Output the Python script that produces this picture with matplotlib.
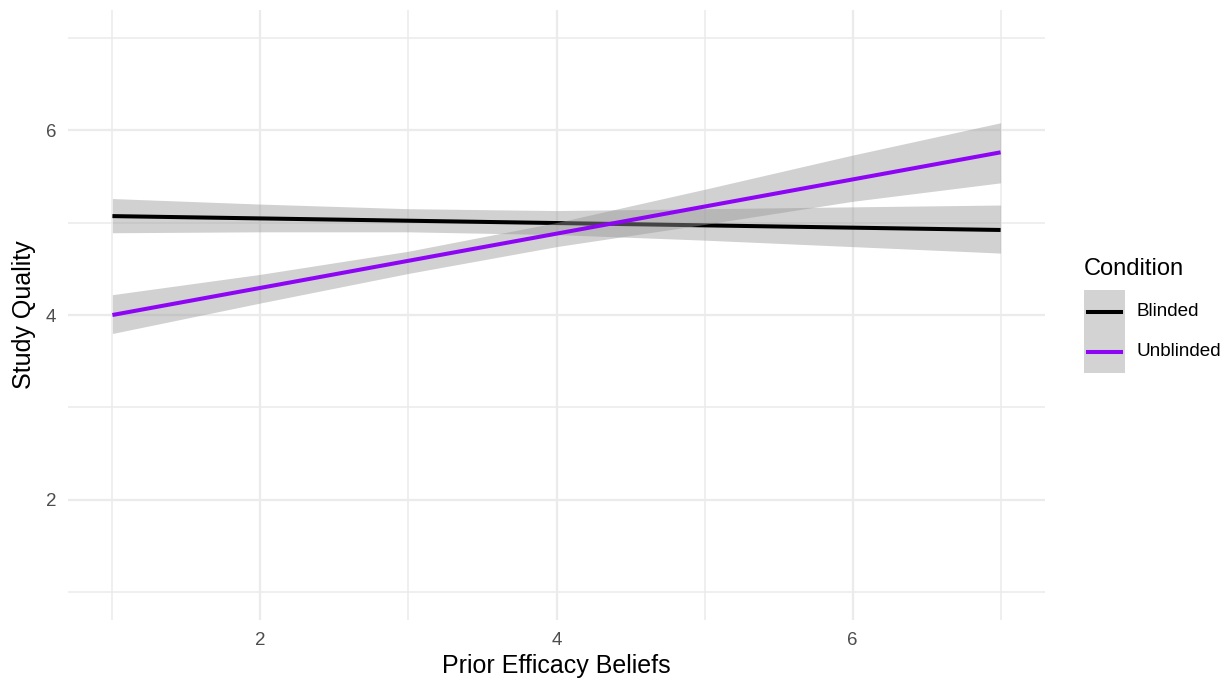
import matplotlib.pyplot as plt
from matplotlib.patches import Rectangle
from matplotlib.lines import Line2D

plt.rcParams['font.family'] = ['Liberation Sans', 'DejaVu Sans']

# fitted lines (endpoints of the regression over the observed x range)
x_fit = [1, 7]
blinded_fit = [5.07, 4.92]
unblinded_fit = [4.00, 5.76]

# 95% confidence bands read at each integer x
x_band = [1, 2, 3, 4, 5, 6, 7]
blinded_lo = [4.89, 4.90, 4.90, 4.87, 4.81, 4.74, 4.67]
blinded_hi = [5.26, 5.20, 5.15, 5.13, 5.15, 5.17, 5.19]
unblinded_lo = [3.80, 4.13, 4.45, 4.74, 4.98, 5.23, 5.43]
unblinded_hi = [4.22, 4.44, 4.69, 5.00, 5.36, 5.73, 6.08]

conditions = ["Blinded", "Unblinded"]
colors = ["#000000", "#8E05F5"]
band_col = "#999999"

fig = plt.figure(figsize=(12.28, 6.83), dpi=100)
ax = fig.add_axes([68 / 1228, 1 - 620 / 683, (1045 - 68) / 1228, 610 / 683])

ax.fill_between(x_band, blinded_lo, blinded_hi, color=band_col, alpha=0.45, lw=0, zorder=2)
ax.plot(x_fit, blinded_fit, color=colors[0], lw=2.9, solid_capstyle='butt', zorder=3)
ax.fill_between(x_band, unblinded_lo, unblinded_hi, color=band_col, alpha=0.45, lw=0, zorder=4)
ax.plot(x_fit, unblinded_fit, color=colors[1], lw=2.9, solid_capstyle='butt', zorder=5)

ax.set_xlim(0.7, 7.3)
ax.set_ylim(0.7, 7.3)
ax.set_xticks([2, 4, 6])
ax.set_yticks([2, 4, 6])
ax.set_xticks([1, 3, 5, 7], minor=True)
ax.set_yticks([1, 3, 5, 7], minor=True)
ax.grid(which='major', color='#EBEBEB', lw=1.6)
ax.grid(which='minor', color='#EBEBEB', lw=1.1)
ax.set_axisbelow(True)
for s in ax.spines.values():
    s.set_visible(False)
ax.tick_params(which='both', length=0, labelsize=13.5, labelcolor='#4D4D4D', pad=8.5)

ax.set_xlabel("Prior Efficacy Beliefs", fontsize=18)
ax.set_ylabel("Study Quality", fontsize=18)
ax.xaxis.set_label_coords(0.5, -0.056)
ax.yaxis.set_label_coords(-0.033, 0.5)

# legend drawn by hand in figure pixels
W, H = 1228, 683
fig.text(1084 / W, 1 - 269 / H, "Condition", fontsize=17, va='center', ha='left')
fig.patches.append(Rectangle((1084 / W, 1 - 373 / H), 41 / W, 83 / H,
                             transform=fig.transFigure, color='#D3D3D3', lw=0))
for i, (name, c) in enumerate(zip(conditions, colors)):
    yk = 1 - (312 + 40 * i) / H
    fig.lines.append(Line2D([1088 / W, 1121 / W], [yk, yk], transform=fig.transFigure,
                            color=c, lw=2.9))
    fig.text(1137 / W, yk, name, fontsize=13.6, va='center', ha='left')

fig.savefig("out.png", dpi=100)
